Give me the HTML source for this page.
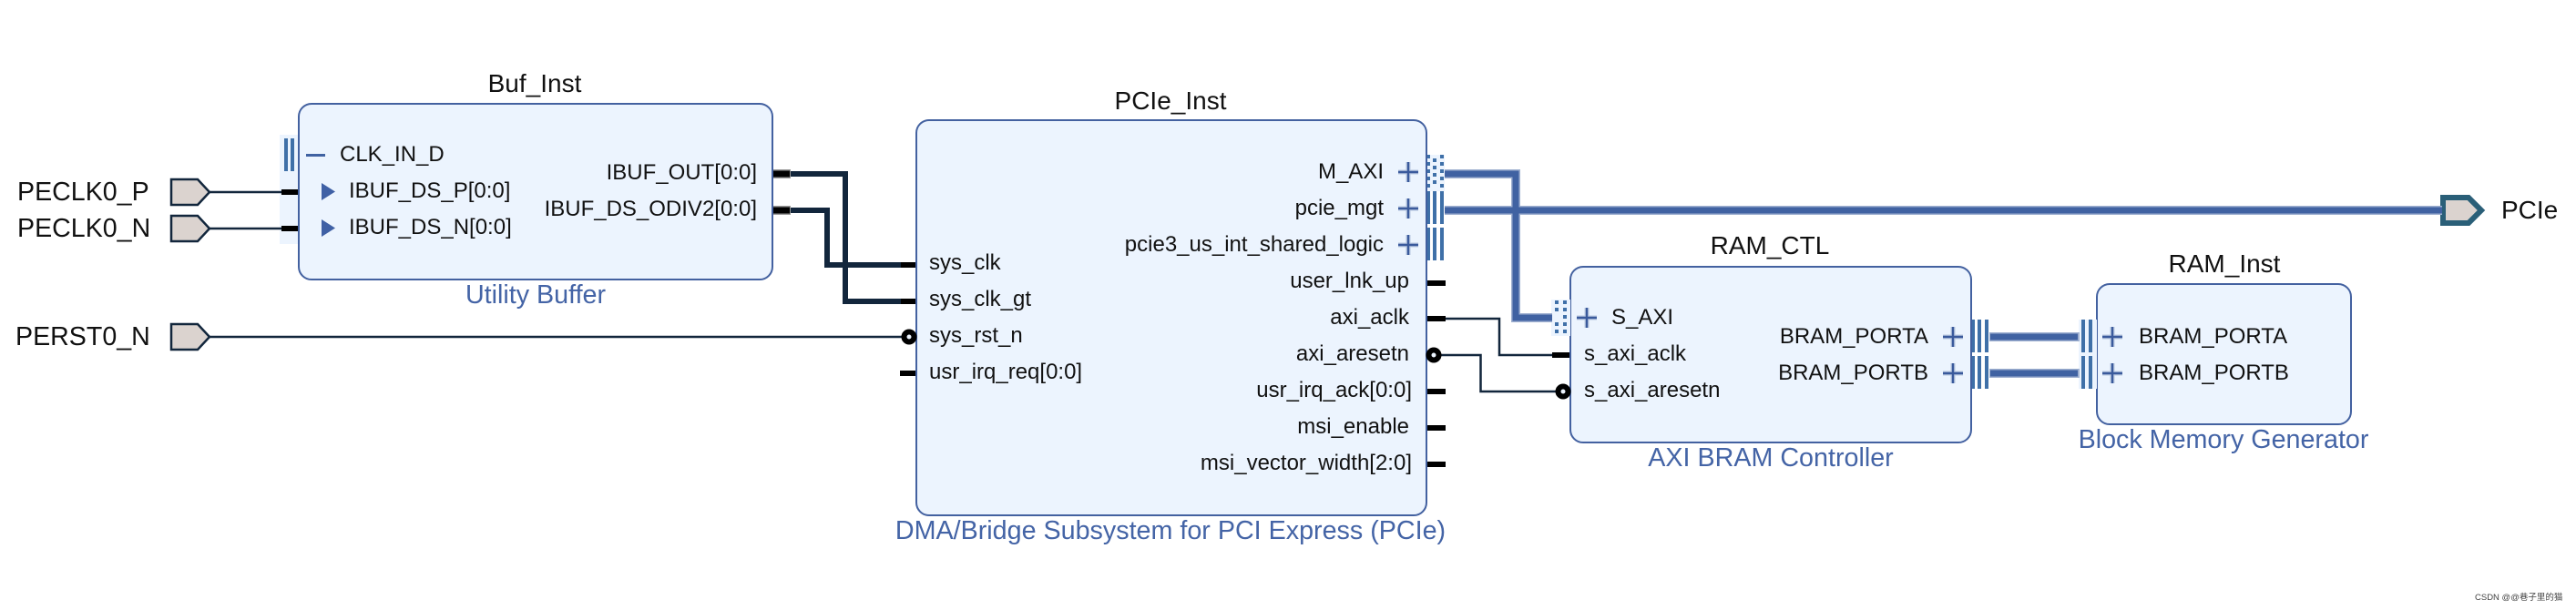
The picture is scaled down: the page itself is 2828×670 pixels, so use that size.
<!DOCTYPE html>
<html>
<head>
<meta charset="utf-8">
<title>Block Design</title>
<style>
html,body{margin:0;padding:0;background:#fff;width:2828px;height:670px;overflow:hidden}
svg{display:block}
text{font-family:"Liberation Sans","Noto Sans CJK SC",sans-serif;fill:#111}
.t{font-size:28px}
.x{font-size:28.600px}
.p{font-size:24px}
.s{font-size:28.700px;fill:#4464a6}
.m{text-anchor:middle}
.e{text-anchor:end}
.box{fill:#ecf4fe;stroke:#4361a0;stroke-width:2}
.bg{fill:#ecf4fe}
.bar{fill:#3f70a8}
.pin{fill:#dbd3cf;stroke:#12263c;stroke-width:2.5}
.w{fill:none;stroke:#12263c;stroke-width:2.5}
.bus{fill:none;stroke:#12263c;stroke-width:6}
.st{stroke:#000;stroke-width:6;fill:none}
.hl{fill:none;stroke:#9fb0d0;stroke-width:10}
.cr{fill:none;stroke:#4062a2;stroke-width:7}
.pl{fill:none;stroke:#b9c8e0;stroke-width:6}
.pk{fill:none;stroke:#3a5a9c;stroke-width:2.4}
.ci{fill:#ecf4fe;stroke:#000;stroke-width:6}
</style>
</head>
<body>
<svg width="2828" height="670" viewBox="0 0 2828 670" xmlns="http://www.w3.org/2000/svg">
<rect width="2828" height="670" fill="#fff"/>

<!-- port background for Buf_Inst -->
<rect class="bg" x="307" y="148" width="22" height="120"/>

<!-- boxes -->
<rect class="box" x="328" y="114" width="520" height="193" rx="14"/>
<rect class="box" x="1006" y="132" width="560" height="434" rx="14"/>
<rect class="box" x="1724" y="293" width="440" height="193" rx="14"/>
<rect class="box" x="2302" y="312" width="279" height="154" rx="14"/>

<!-- external input pins -->
<path class="pin" d="M188 197H217L230 211L217 225H188Z"/>
<path class="pin" d="M188 237H217L230 251L217 265H188Z"/>
<path class="pin" d="M188 356H217L230 370L217 384H188Z"/>
<path class="w" d="M230 211H310M230 251H310M230 370H990"/>
<path class="st" d="M309 211H327M309 251H327"/>

<!-- CLK_IN_D bars -->
<rect class="bar" x="312" y="152" width="4" height="36"/>
<rect class="bar" x="319" y="152" width="4" height="36"/>

<!-- Buf outputs to PCIe -->
<path class="bus" d="M866 191H928V331H990"/>
<path class="bus" d="M866 231H908V291H990"/>
<path d="M849 191H868M849 231H868" fill="none" stroke="#999" stroke-width="10"/>
<path d="M849 191H867M849 231H867" fill="none" stroke="#000" stroke-width="7"/>
<path class="st" d="M989 291H1005M989 331H1005M988 410H1005"/>
<circle class="ci" cx="998" cy="370" r="5.500"/>

<!-- Buf icons -->
<rect x="336" y="169" width="21" height="3" fill="#4062a2"/>
<path d="M353 201L368 210.500L353 220Z" fill="#3f60a5"/>
<path d="M353 241L368 250.500L353 260Z" fill="#3f60a5"/>

<!-- M_AXI port -->
<rect class="bg" x="1567" y="170" width="19" height="40"/>
<g class="bar">
<rect x="1581" y="170" width="4" height="4"/><rect x="1581" y="178" width="4" height="4"/><rect x="1581" y="186" width="4" height="4"/><rect x="1581" y="194" width="4" height="4"/><rect x="1581" y="202" width="4" height="4"/>
<rect x="1573" y="174" width="4" height="4"/><rect x="1573" y="182" width="4" height="4"/><rect x="1573" y="190" width="4" height="4"/><rect x="1573" y="198" width="4" height="4"/>
<rect x="1567" y="170" width="3" height="4"/><rect x="1567" y="178" width="3" height="4"/><rect x="1567" y="186" width="3" height="4"/><rect x="1567" y="194" width="3" height="4"/><rect x="1567" y="202" width="3" height="4"/>
</g>
<!-- pcie_mgt and shared logic bars -->
<g class="bar">
<rect x="1567" y="210" width="3" height="36"/><rect x="1573" y="210" width="4" height="36"/><rect x="1581" y="210" width="4" height="36"/>
<rect x="1567" y="250" width="3" height="36"/><rect x="1573" y="250" width="4" height="36"/><rect x="1581" y="250" width="4" height="36"/>
</g>

<!-- S_AXI port -->
<rect class="bg" x="1703" y="329" width="21" height="40"/>
<g class="bar">
<rect x="1707" y="330" width="4" height="4"/><rect x="1707" y="338" width="4" height="4"/><rect x="1707" y="354" width="4" height="4"/><rect x="1707" y="362" width="4" height="4"/>
<rect x="1716" y="330" width="4" height="4"/><rect x="1716" y="338" width="4" height="4"/><rect x="1716" y="346" width="4" height="4"/><rect x="1716" y="354" width="4" height="4"/><rect x="1716" y="362" width="4" height="4"/>
</g>

<!-- AXI nets -->
<path class="hl" d="M1586 191H1664V349H1704"/>
<path class="hl" d="M1586 231H2682"/>
<path class="cr" d="M1586 191H1664V349H1704"/>
<path class="cr" d="M1586 231H2682"/>

<!-- PCIe output pin -->
<path d="M2682 217H2710L2724 231L2710 245H2682Z" fill="#dbd3cf" stroke="#2a5f78" stroke-width="6"/>
<path class="hl" d="M2660 231H2681" style="stroke-width:10"/>
<path class="cr" d="M2660 231H2681"/>

<!-- right side stubs and wires -->
<path class="w" d="M1585 350H1646V390H1706"/>
<path class="w" d="M1582 390H1625.500V430H1708"/>
<path class="st" d="M1567 311H1587M1567 350H1587M1567 430H1587M1567 470H1587M1567 510H1587M1704 390H1723"/>
<circle class="ci" cx="1574" cy="390" r="5.500"/>
<circle class="ci" cx="1716" cy="430" r="5.500"/>

<!-- BRAM nets -->
<rect class="bg" x="2282" y="351" width="20" height="76"/>
<g class="bar">
<rect x="2165" y="351" width="3" height="36"/><rect x="2171" y="351" width="4" height="36"/><rect x="2179" y="351" width="4" height="36"/>
<rect x="2165" y="391" width="3" height="36"/><rect x="2171" y="391" width="4" height="36"/><rect x="2179" y="391" width="4" height="36"/>
<rect x="2285" y="351" width="4" height="36"/><rect x="2293" y="351" width="4" height="36"/>
<rect x="2285" y="391" width="4" height="36"/><rect x="2293" y="391" width="4" height="36"/>
</g>
<path class="hl" d="M2184 370H2283M2184 410H2283"/>
<path class="cr" d="M2185 370H2281M2185 410H2281"/>

<!-- plus icons -->
<path class="pl" d="M1535 189H1557M1546 178V200M1535 229H1557M1546 218V240M1535 269H1557M1546 258V280M1731 349H1753M1742 338V360M2133 370H2155M2144 359V381M2133 410H2155M2144 399V421M2308 370H2330M2319 359V381M2308 410H2330M2319 399V421" style="stroke-width:5"/>
<path class="pk" d="M1535 189H1557M1546 178V200M1535 229H1557M1546 218V240M1535 269H1557M1546 258V280M1731 349H1753M1742 338V360M2133 370H2155M2144 359V381M2133 410H2155M2144 399V421M2308 370H2330M2319 359V381M2308 410H2330M2319 399V421"/>

<!-- instance names -->
<text class="t m" x="587" y="101">Buf_Inst</text>
<text class="t m" x="1285" y="120">PCIe_Inst</text>
<text class="t m" x="1943" y="279">RAM_CTL</text>
<text class="t m" x="2442" y="299">RAM_Inst</text>

<!-- subtitles -->
<text class="s m" x="588" y="333">Utility Buffer</text>
<text class="s m" x="1285" y="592">DMA/Bridge Subsystem for PCI Express (PCIe)</text>
<text class="s m" x="1944" y="512">AXI BRAM Controller</text>
<text class="s m" x="2441" y="492">Block Memory Generator</text>

<!-- external labels -->
<text class="x" x="19" y="220">PECLK0_P</text>
<text class="x" x="19" y="260">PECLK0_N</text>
<text class="x" x="17" y="379">PERST0_N</text>
<text class="t" x="2746" y="240">PCIe</text>

<!-- Buf ports -->
<text class="p" x="373" y="177">CLK_IN_D</text>
<text class="p" x="383" y="217">IBUF_DS_P[0:0]</text>
<text class="p" x="383" y="257">IBUF_DS_N[0:0]</text>
<text class="p e" x="831" y="197">IBUF_OUT[0:0]</text>
<text class="p e" x="831" y="237">IBUF_DS_ODIV2[0:0]</text>

<!-- PCIe ports -->
<text class="p" x="1020" y="296">sys_clk</text>
<text class="p" x="1020" y="336">sys_clk_gt</text>
<text class="p" x="1020" y="376">sys_rst_n</text>
<text class="p" x="1020" y="416">usr_irq_req[0:0]</text>
<text class="p e" x="1519" y="196">M_AXI</text>
<text class="p e" x="1519" y="236">pcie_mgt</text>
<text class="p e" x="1519" y="276">pcie3_us_int_shared_logic</text>
<text class="p e" x="1547" y="316">user_lnk_up</text>
<text class="p e" x="1547" y="356">axi_aclk</text>
<text class="p e" x="1547" y="396">axi_aresetn</text>
<text class="p e" x="1550" y="436">usr_irq_ack[0:0]</text>
<text class="p e" x="1547" y="476">msi_enable</text>
<text class="p e" x="1550" y="516">msi_vector_width[2:0]</text>

<!-- RAM_CTL ports -->
<text class="p" x="1769" y="356">S_AXI</text>
<text class="p" x="1739" y="396">s_axi_aclk</text>
<text class="p" x="1739" y="436">s_axi_aresetn</text>
<text class="p e" x="2117" y="377">BRAM_PORTA</text>
<text class="p e" x="2117" y="417">BRAM_PORTB</text>

<!-- RAM_Inst ports -->
<text class="p" x="2348" y="377">BRAM_PORTA</text>
<text class="p" x="2348" y="417">BRAM_PORTB</text>

<!-- watermark -->
<text x="2717" y="659" style="font-size:9.500px;fill:#444">CSDN @@巷子里的猫</text>
</svg>
</body>
</html>
